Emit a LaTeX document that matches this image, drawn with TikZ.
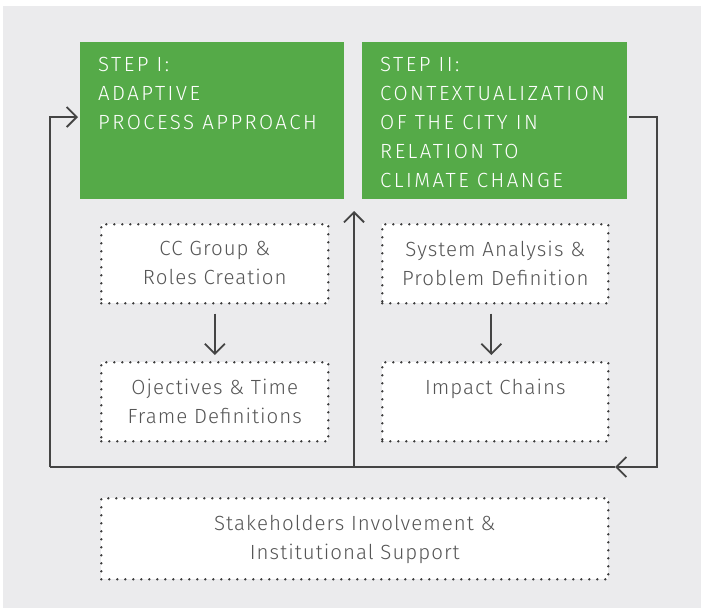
\documentclass[tikz,border=0pt]{standalone}
\usepackage{fontspec}
\setmainfont{Fira Sans Light}
\newfontfamily\capsfont{Fira Sans Light}[LetterSpace=12]
\newfontfamily\taskfont{Fira Sans Light}[LetterSpace=5]
\usetikzlibrary{positioning,arrows.meta}
\definecolor{stepgreen}{HTML}{55AA48}
\definecolor{panelgray}{HTML}{EBEBED}
\definecolor{linegray}{HTML}{444444}
\definecolor{dotgray}{HTML}{3C3C3C}
\definecolor{textgray}{HTML}{555555}

\tikzset{
  stepbox/.style={fill=stepgreen, minimum width=264pt, minimum height=157pt, anchor=north west, inner sep=0pt},
  steptext/.style={text=white, align=left, inner sep=0pt, font=\capsfont\fontsize{20.5}{29}\selectfont},
  taskbox/.style={draw=dotgray, fill=white, line width=2.6pt, dash pattern=on 0pt off 8pt, line cap=round,
    minimum width=227pt, minimum height=79pt, anchor=north west, inner sep=0pt},
  tasktext/.style={text=textgray, align=center, inner sep=0pt, font=\taskfont\fontsize{20.5}{29}\selectfont},
  loop/.style={draw=linegray, line width=1.8pt},
  arr/.style={-{Straight Barb[length=10pt,width=20pt]}}
}

\begin{document}
\begin{tikzpicture}[x=1pt,y=-1pt]
  \useasboundingbox (0,0) rectangle (701,608);
  \fill[white] (0,0) rectangle (701,608);
  \fill[panelgray] (3,6) rectangle (701,608);

  % the two steps
  \node[stepbox] (step1) at (80,42) {};
  \node[stepbox, minimum width=265pt] (step2) at (362,42) {};
  \node[steptext, below right=15pt and 18pt of step1.north west] (step1txt)
    {STEP I:\\ADAPTIVE\\PROCESS APPROACH};
  \node[steptext, below right=15pt and 18pt of step2.north west] (step2txt)
    {STEP II:\\CONTEXTUALIZATION\\OF THE CITY IN\\RELATION TO\\CLIMATE CHANGE};

  % tasks under each step
  \node[taskbox] (group) at (100,223) {};
  \node[taskbox] (goals) at (100,361) {};
  \node[taskbox, minimum width=226pt] (system) at (381,223) {};
  \node[taskbox, minimum width=226pt] (chains) at (381,361) {};
  \node[taskbox, minimum width=507pt, minimum height=81pt] (stake) at (100,497) {};

  \node[tasktext, below=18pt of group.north] (grouptxt) {CC Group \&\\Roles Creation};
  \node[tasktext, below=18pt of goals.north] (goalstxt) {Ojectives \& Time\\Frame Definitions};
  \node[tasktext, below=18pt of system.north] (systemtxt) {System Analysis \&\\Problem Definition};
  \node[tasktext, below=18pt of chains.north] (chainstxt) {Impact Chains};
  \node[tasktext, below=18pt of stake.north] (staketxt) {Stakeholders Involvement \&\\Institutional Support};

  \draw[loop, arr] ([yshift=-9pt]group.south) -- ([yshift=6pt]goals.north);
  \draw[loop, arr] ([yshift=-9pt, xshift=-4pt]system.south) -- ([yshift=6pt, xshift=-4pt]chains.north);

  % feedback loop
  \coordinate (outR) at ([yshift=-75pt, xshift=2pt]step2.north east);
  \coordinate (inL) at ([yshift=-75pt, xshift=-2pt]step1.north west);
  \coordinate (loopR) at (657,467);
  \coordinate (loopL) at (50,467);
  \coordinate (loopM) at (354,467);
  \coordinate (loopArr) at (615,467);
  \coordinate (upTip) at (354,211);
  \draw[loop, arr] (outR) -| (loopR) -- (loopArr);
  \draw[loop] (loopArr) -- (loopL);
  \draw[loop, arr] (loopL) |- (inL);
  \draw[loop, arr] (loopM) -- (upTip);
\end{tikzpicture}
\end{document}
